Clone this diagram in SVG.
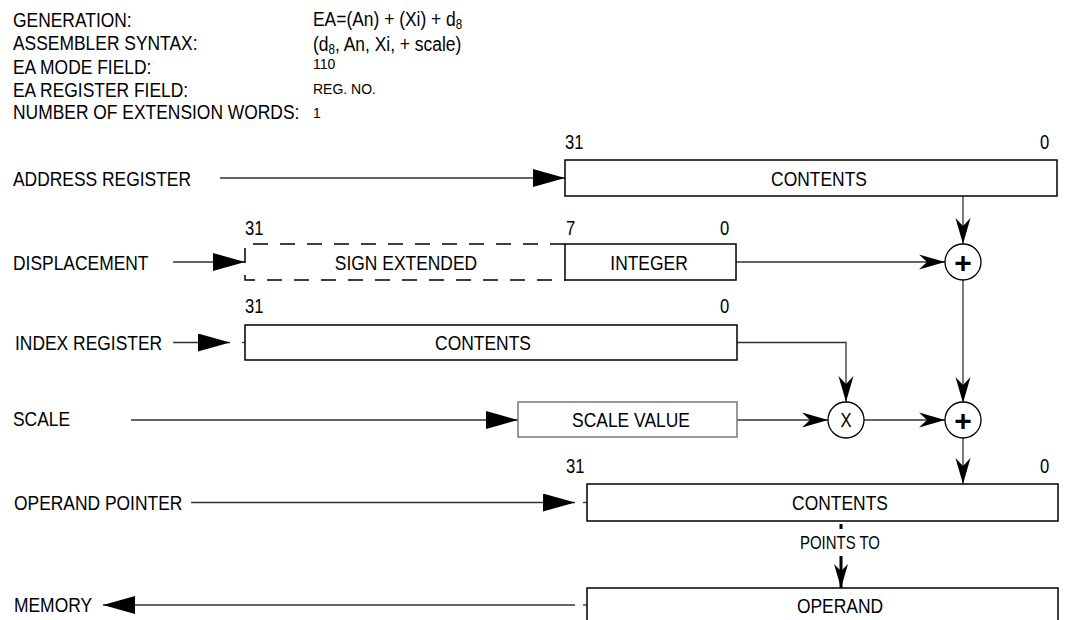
<svg xmlns="http://www.w3.org/2000/svg" width="1075" height="620" viewBox="0 0 1075 620">
<style>
.t{font-family:'Liberation Sans',Arial,sans-serif;font-size:21px;fill:#000}
.s{font-family:'Liberation Sans',Arial,sans-serif;font-size:14px;fill:#000}
.n{font-family:'Liberation Sans',Arial,sans-serif;font-size:20px;fill:#000}
.p{font-family:'Liberation Sans',Arial,sans-serif;font-size:18px;fill:#000}
.c{text-anchor:middle}
.pl{font-family:'Liberation Sans',Arial,sans-serif;font-weight:bold;font-size:30px;text-anchor:middle;fill:#000}
.box{fill:#fff;stroke:#000;stroke-width:1.5}
.gbox{fill:#fff;stroke:#777;stroke-width:1.5}
.ln{fill:none;stroke:#333;stroke-width:1.3}
.circ{fill:#fff;stroke:#000;stroke-width:1.3}
</style>
<defs>
<marker id="tri" markerUnits="userSpaceOnUse" markerWidth="32" markerHeight="18" refX="32" refY="9" orient="auto"><path d="M0,0 L32,9 L0,18 Z" fill="#000"/></marker>
<marker id="dart" markerUnits="userSpaceOnUse" markerWidth="26" markerHeight="16" refX="26" refY="8" orient="auto"><path d="M0,0.5 L26,8 L0,15.5 L8,8 Z" fill="#000"/></marker>
<marker id="dart2" markerUnits="userSpaceOnUse" markerWidth="24" markerHeight="16" refX="24" refY="8" orient="auto"><path d="M0,1 L24,8 L0,15 L7,8 Z" fill="#000"/></marker>
</defs>

<g id="header">
<text class="t" transform="translate(13,27) scale(0.83,1)">GENERATION:</text>
<text class="t" transform="translate(13,50) scale(0.83,1)">ASSEMBLER SYNTAX:</text>
<text class="t" transform="translate(13,74) scale(0.83,1)">EA MODE FIELD:</text>
<text class="t" transform="translate(13,97) scale(0.83,1)">EA REGISTER FIELD:</text>
<text class="t" transform="translate(13,119) scale(0.83,1)">NUMBER OF EXTENSION WORDS:</text>
<text class="t" transform="translate(313,26) scale(0.83,1)">EA=(An) + (Xi) + d<tspan font-size="14" dy="3">8</tspan></text>
<text class="t" transform="translate(313,51) scale(0.83,1)">(d<tspan font-size="14" dy="3">8</tspan><tspan dy="-3">, An, Xi, + scale)</tspan></text>
<text class="s" x="313" y="69">110</text>
<text class="s" x="313" y="94">REG. NO.</text>
<text class="s" x="313" y="118">1</text>
</g>

<g id="labels">
<text class="t" transform="translate(13,186) scale(0.83,1)">ADDRESS REGISTER</text>
<text class="t" transform="translate(13,270) scale(0.83,1)">DISPLACEMENT</text>
<text class="t" transform="translate(15,350) scale(0.83,1)">INDEX REGISTER</text>
<text class="t" transform="translate(13,426) scale(0.83,1)">SCALE</text>
<text class="t" transform="translate(14,510) scale(0.83,1)">OPERAND POINTER</text>
<text class="t" transform="translate(14,612) scale(0.83,1)">MEMORY</text>
</g>

<g id="connectors">
<path class="ln" d="M220,178 H565" marker-end="url(#tri)"/>
<path class="ln" d="M173,262 H245" marker-end="url(#tri)"/>
<path class="ln" d="M173,342.5 H230" marker-end="url(#tri)"/>
<path class="ln" d="M242,342.5 H245"/>
<path class="ln" d="M131,420 H518" marker-end="url(#tri)"/>
<path class="ln" d="M191,502.5 H575" marker-end="url(#tri)"/>
<path class="ln" d="M583,502.5 H587"/>
<path class="ln" d="M575,605 H103" marker-end="url(#tri)"/>
<path class="ln" d="M583,605 H587"/>
<path class="ln" d="M963,196 V244" marker-end="url(#dart)"/>
<path class="ln" d="M736,262 H945" marker-end="url(#dart)"/>
<path class="ln" d="M963,280 V403" marker-end="url(#dart)"/>
<path class="ln" d="M737,342.5 H846 V402" marker-end="url(#dart)"/>
<path class="ln" d="M737,420 H828" marker-end="url(#dart)"/>
<path class="ln" d="M864,420 H945" marker-end="url(#dart)"/>
<path class="ln" d="M963,438 V484" marker-end="url(#dart)"/>
<path fill="none" stroke="#000" stroke-width="3" d="M841,524 V529"/>
<path fill="none" stroke="#000" stroke-width="3" d="M841,556 V588" marker-end="url(#dart2)"/>
</g>

<g id="address-register">
<text class="n" transform="translate(565,149) scale(0.83,1)">31</text>
<text class="n" transform="translate(1040,149) scale(0.83,1)">0</text>
<rect class="box" x="565" y="160" width="492" height="36"/>
<text class="t c" transform="translate(819,186) scale(0.83,1)">CONTENTS</text>
</g>

<g id="displacement">
<text class="n" transform="translate(245,235) scale(0.83,1)">31</text>
<text class="n" transform="translate(566,235) scale(0.83,1)">7</text>
<text class="n" transform="translate(720,235) scale(0.83,1)">0</text>
<path fill="none" stroke="#000" stroke-width="1.5" stroke-dasharray="15 12" d="M565,244 H245 V280 H565"/>
<text class="t c" transform="translate(406,270) scale(0.83,1)">SIGN EXTENDED</text>
<rect class="box" x="565" y="244" width="171" height="36"/>
<text class="t c" transform="translate(649,270) scale(0.83,1)">INTEGER</text>
</g>

<g id="index-register">
<text class="n" transform="translate(245,313) scale(0.83,1)">31</text>
<text class="n" transform="translate(720,313) scale(0.83,1)">0</text>
<rect class="box" x="245" y="325" width="492" height="35"/>
<text class="t c" transform="translate(483,350) scale(0.83,1)">CONTENTS</text>
</g>

<g id="scale-value">
<rect class="gbox" x="518" y="402" width="219" height="35"/>
<text class="t c" transform="translate(631,427) scale(0.83,1)">SCALE VALUE</text>
</g>

<g id="adder1">
<circle class="circ" cx="963" cy="262" r="18"/>
<text class="pl" x="963" y="272.5">+</text>
</g>

<g id="multiplier">
<circle class="circ" cx="846" cy="420" r="18"/>
<text class="n c" transform="translate(846,427) scale(0.83,1)">X</text>
</g>

<g id="adder2">
<circle class="circ" cx="963" cy="420" r="18"/>
<text class="pl" x="963" y="430.5">+</text>
</g>

<g id="operand-pointer">
<text class="n" transform="translate(566,473) scale(0.83,1)">31</text>
<text class="n" transform="translate(1040,473) scale(0.83,1)">0</text>
<rect class="box" x="587" y="484" width="471" height="37"/>
<text class="t c" transform="translate(840,510) scale(0.83,1)">CONTENTS</text>
<text class="p c" transform="translate(840,549) scale(0.83,1)">POINTS TO</text>
</g>

<g id="operand">
<rect class="box" x="587" y="588" width="471" height="50"/>
<text class="t c" transform="translate(840,613) scale(0.83,1)">OPERAND</text>
</g>
</svg>
